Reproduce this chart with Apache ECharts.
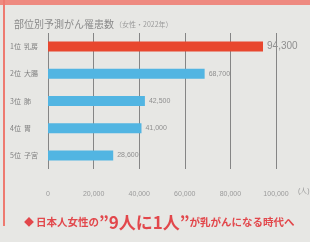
<!DOCTYPE html>
<html>
<head>
<meta charset="utf-8">
<script src="https://cdn.jsdelivr.net/npm/echarts@6/dist/echarts.min.js"></script>
<style>
  html, body { margin: 0; padding: 0; background: #e7e7e4; }
  #main { width: 310px; height: 242px; }
</style>
</head>
<body>
<div id="main"></div>
<script>
// 部位別予測がん罹患数（女性・2022年）
const categories = ['1位  乳房', '2位  大腸', '3位  肺', '4位  胃', '5位  子宮'];
const values = [94300, 68700, 42500, 41000, 28600];
const valueLabels = ['94,300', '68,700', '42,500', '41,000', '28,600'];
const tickLabels = ['0', '20,000', '40,000', '60,000', '80,000', '100,000'];

const chart = echarts.init(document.getElementById('main'));

const option = {
  backgroundColor: '#e7e7e4',
  animation: false,
  title: [
    {
      text: '部位別予測がん罹患数',
      left: 9,
      top: 14,
      textStyle: { color: '#8a8a8a', fontSize: 10, fontWeight: 'normal', fontFamily: 'Noto Sans CJK JP' }
    },
    {
      text: '（女性・2022年）',
      left: 110,
      top: 16,
      textStyle: { color: '#9a9a9a', fontSize: 7, fontWeight: 'normal', fontFamily: 'Noto Sans CJK JP' }
    },
    {
      text: '{d|◆}{a|日本人女性の}{b|”9人に1人”}{a|が乳がんになる時代へ}',
      left: 19,
      top: 209,
      textStyle: {
        rich: {
          d: { color: '#e2474b', fontSize: 10, fontFamily: 'Noto Sans CJK JP', padding: [0, 2, 0, 0] },
          a: { color: '#e2474b', fontSize: 10.5, fontFamily: 'Noto Sans CJK JP' },
          b: { color: '#e2474b', fontSize: 17, fontWeight: 'bold', fontFamily: 'Noto Sans CJK JP' }
        }
      }
    }
  ],
  grid: { left: 48, right: 34, top: 33, height: 136, containLabel: false },
  xAxis: {
    type: 'value',
    min: 0,
    max: 100000,
    interval: 20000,
    axisLine: { show: false },
    axisTick: { show: false },
    splitLine: { show: true, lineStyle: { color: '#858585', width: 1 } },
    axisLabel: {
      color: '#9a9a9a',
      fontSize: 7,
      margin: 22,
      formatter: function (v) { return tickLabels[v / 20000]; }
    }
  },
  yAxis: {
    type: 'category',
    inverse: true,
    data: categories,
    axisLine: { show: false },
    axisTick: { show: false },
    axisLabel: { color: '#808080', fontSize: 7, align: 'left', margin: 38, fontFamily: 'Noto Sans CJK JP' }
  },
  series: [
    {
      type: 'bar',
      barWidth: 10,
      data: values.map(function (v, i) {
        return {
          value: v,
          itemStyle: { color: i === 0 ? '#e8472e' : '#52b5e2' },
          label: { fontSize: i === 0 ? 10 : 7 }
        };
      }),
      label: {
        show: true,
        position: 'right',
        distance: 4,
        color: '#8f8f8f',
        formatter: function (p) { return valueLabels[p.dataIndex]; }
      }
    }
  ],
  graphic: [
    { type: 'rect', shape: { x: 0, y: 0, width: 310, height: 5 }, style: { fill: '#ee8a80' } },
    { type: 'rect', shape: { x: 3, y: 0, width: 2, height: 226 }, style: { fill: '#ee7a70' } },
    { type: 'text', left: 298, top: 188, style: { text: '(人)', fill: '#9a9a9a', fontSize: 7 } }
  ]
};

chart.setOption(option);
</script>
</body>
</html>
